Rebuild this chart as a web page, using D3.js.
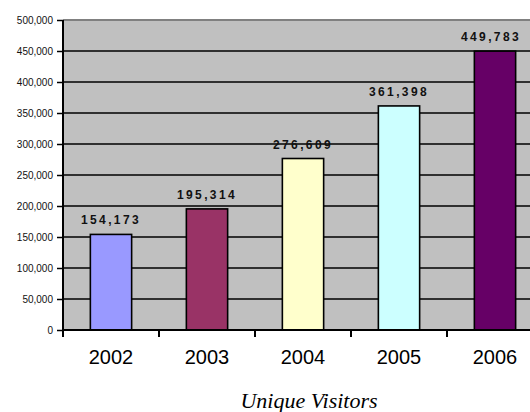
<!DOCTYPE html>
<html>
<head>
<meta charset="utf-8">
<script src="https://cdn.jsdelivr.net/npm/d3@7"></script>
<style>
  body { margin: 0; background: #fff; }
  svg { display: block; }
</style>
</head>
<body>
<svg id="chart" width="530" height="412"></svg>
<script>
(function(root) {
  // data
  const years = ['2002', '2003', '2004', '2005', '2006'];
  const visitors = [154173, 195314, 276609, 361398, 449783];
  const barColors = ['#9999ff', '#993366', '#ffffcc', '#ccffff', '#660066'];
  const yTicks = [0, 50000, 100000, 150000, 200000, 250000, 300000, 350000, 400000, 450000, 500000];
  const axisTitle = 'Unique Visitors';

  // plot box
  const left = 63, top = 20, bottom = 330;
  const bandW = 96;
  const right = left + bandW * years.length;

  const svg = d3.select('#chart');

  const x = d3.scaleBand()
      .domain(years)
      .range([left, right])
      .paddingInner(0.57)
      .paddingOuter(0.285);
  const y = d3.scaleLinear()
      .domain([0, 500000])
      .range([bottom, top]);

  // background
  svg.append('rect')
      .attr('x', left).attr('y', top)
      .attr('width', right - left).attr('height', bottom - top)
      .attr('fill', '#c0c0c0');

  // gridlines
  svg.append('g')
      .selectAll('line')
      .data(yTicks.filter(d => d > 0 && d < 500000))
      .enter().append('line')
        .attr('x1', left).attr('x2', right)
        .attr('y1', d => y(d)).attr('y2', d => y(d))
        .attr('stroke', '#000').attr('stroke-width', 1.5);

  // top border
  svg.append('line')
      .attr('x1', left).attr('x2', right)
      .attr('y1', y(500000)).attr('y2', y(500000))
      .attr('stroke', '#808080').attr('stroke-width', 2);

  // bars
  svg.append('g')
      .selectAll('rect')
      .data(visitors)
      .enter().append('rect')
        .attr('x', (d, i) => x(years[i]))
        .attr('y', d => y(d))
        .attr('width', x.bandwidth())
        .attr('height', d => y(0) - y(d))
        .attr('fill', (d, i) => barColors[i])
        .attr('stroke', '#000')
        .attr('stroke-width', 1.6);

  // value labels (kept inside the picture on the right)
  const fmt = d3.format(',');
  svg.append('g')
      .selectAll('text')
      .data(visitors)
      .enter().append('text')
        .attr('x', (d, i) => Math.min(x(years[i]) + x.bandwidth() / 2, 491))
        .attr('y', d => y(d) - 10)
        .attr('text-anchor', 'middle')
        .attr('font-family', 'Arial, "Liberation Sans", sans-serif')
        .attr('font-size', 12)
        .attr('font-weight', 'bold')
        .attr('letter-spacing', 2.4)
        .attr('fill', '#111')
        .text(d => fmt(d));

  // y axis
  const yAxis = d3.axisLeft(y)
      .tickValues(yTicks)
      .tickSize(6)
      .tickPadding(4)
      .tickFormat(fmt);
  const ya = svg.append('g')
      .attr('transform', `translate(${left},0)`)
      .call(yAxis);
  ya.select('.domain').remove();
  ya.selectAll('line').attr('stroke', '#000').attr('stroke-width', 1.5);
  ya.selectAll('text')
      .attr('font-family', 'Arial, "Liberation Sans", sans-serif')
      .attr('font-size', 10)
      .attr('fill', '#111');
  svg.append('line')
      .attr('x1', left).attr('x2', left)
      .attr('y1', top).attr('y2', bottom + 1)
      .attr('stroke', '#000').attr('stroke-width', 2);

  // x axis
  const xa = svg.append('g')
      .attr('transform', `translate(0,${bottom})`)
      .call(d3.axisBottom(x).tickSize(0).tickPadding(20));
  xa.select('.domain').remove();
  xa.selectAll('text')
      .attr('font-family', 'Arial, "Liberation Sans", sans-serif')
      .attr('font-size', 20)
      .attr('fill', '#000');
  svg.append('line')
      .attr('x1', left).attr('x2', right)
      .attr('y1', bottom).attr('y2', bottom)
      .attr('stroke', '#000').attr('stroke-width', 2);
  svg.append('g')
      .selectAll('line')
      .data(years)
      .enter().append('line')
        .attr('x1', d => x(d) - x.step() * x.paddingOuter())
        .attr('x2', d => x(d) - x.step() * x.paddingOuter())
        .attr('y1', bottom).attr('y2', bottom + 7)
        .attr('stroke', '#000').attr('stroke-width', 2);

  // axis title
  svg.append('text')
      .attr('x', 309)
      .attr('y', 408)
      .attr('text-anchor', 'middle')
      .attr('font-family', '"Liberation Serif", "Times New Roman", serif')
      .attr('font-style', 'italic')
      .attr('font-size', 22)
      .attr('fill', '#000')
      .text(axisTitle);
})(window);
</script>
</body>
</html>
